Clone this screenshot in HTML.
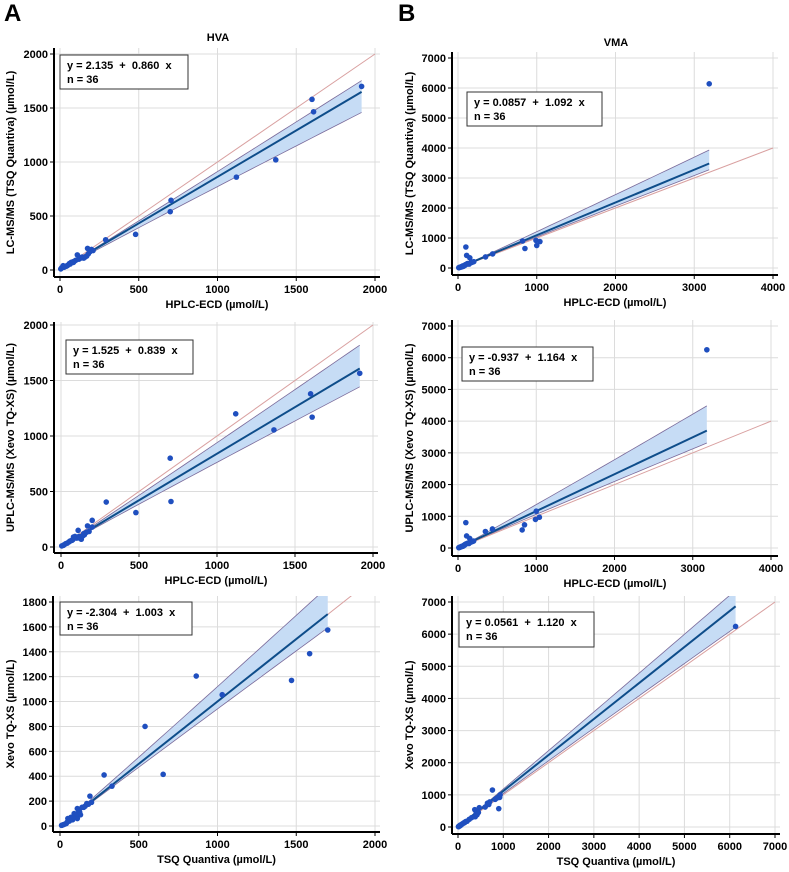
<!DOCTYPE html>
<html><head><meta charset="utf-8">
<style>
body{margin:0;background:#fff;}
svg{display:block;font-family:"Liberation Sans",Arial,sans-serif;font-weight:bold;}
.eq{white-space:pre;}
</style></head>
<body>
<svg id="fig" width="789" height="872" viewBox="0 0 789 872">
<text x="4" y="21" font-size="24">A</text>
<text x="398" y="21" font-size="24">B</text>
<text x="218" y="41" font-size="11" text-anchor="middle">HVA</text>
<text x="616" y="46" font-size="11" text-anchor="middle">VMA</text>
</svg>
<script>
// Panel A1: HVA HPLC-ECD vs TSQ
const a1X=[5,10,20,30,40,50,60,70,80,90,100,110,120,130,140,150,160,170,175,180,190,200,210,290,480,700,705,1120,1370,1600,1610,1915,25,45,65,85];
const a1Y=[10,20,40,30,35,45,60,70,75,80,90,140,100,110,120,110,120,130,200,150,170,190,180,280,330,540,645,860,1020,1580,1465,1700,25,40,55,70];
// Panel A2: HVA HPLC-ECD vs Xevo
const a2X=[5,15,30,50,60,70,80,90,100,110,120,130,140,150,160,170,180,200,200,290,480,700,705,1120,1365,1600,1610,1915,20,40,55,75,95,115,145,165];
const a2Y=[10,15,30,45,55,60,90,95,80,150,80,70,100,110,130,190,140,180,240,405,310,800,410,1200,1055,1380,1170,1565,20,35,50,65,85,95,120,135];
// Panel A3: HVA TSQ vs Xevo
const a3X=[10,20,40,50,60,70,80,90,100,110,110,120,130,140,150,170,190,200,280,330,540,655,865,1030,1470,1585,1700,30,45,65,85,105,125,160,180,15];
const a3Y=[5,10,20,60,40,70,50,100,80,140,60,120,90,150,150,180,240,190,410,320,800,415,1205,1055,1170,1385,1575,15,30,55,75,95,110,160,175,8];
// Panel B1: VMA HPLC-ECD vs TSQ
const b1X=[10,20,30,50,60,80,90,100,110,120,150,170,350,440,820,850,990,1000,1040,3190,15,25,40,55,70,85,95,105,130,140,160,180,45,65,75,200];
const b1Y=[10,20,30,40,70,80,100,700,420,150,340,200,370,470,900,650,920,750,880,6140,15,25,35,50,60,90,110,120,140,130,170,190,45,55,70,210];
// Panel B2: VMA HPLC-ECD vs Xevo
const b2X=[10,20,30,50,60,80,90,100,110,120,150,170,350,440,820,850,990,1000,1040,3180,15,25,40,55,70,85,95,105,130,140,160,180,45,65,75,200];
const b2Y=[10,20,30,50,60,90,110,800,380,150,300,200,520,600,570,730,900,1160,970,6250,15,25,40,55,70,95,120,130,150,140,180,200,50,60,80,220];
// Panel B3: VMA TSQ vs Xevo
const b3X=[10,30,50,100,150,200,370,380,420,470,650,700,760,900,920,930,6130,20,40,60,80,120,130,170,250,300,400,450,600,680,820,860,15,25,35,45];
const b3Y=[10,30,60,100,140,180,540,320,380,600,740,780,1150,570,920,1000,6240,20,40,55,80,120,130,170,240,290,420,450,620,700,860,900,15,25,35,45];
// regression: intercept, slope, band half-width at xmax (upper, lower)
const fitInt=[2.135,1.525,-2.304,0.0857,-0.937,0.0561];
const fitSlope=[0.860,0.839,1.003,1.092,1.164,1.120];
const bandUp=[105,210,220,450,780,500];
const bandLo=[190,165,110,210,390,650];
const eqText=["y = 2.135  +  0.860  x","y = 1.525  +  0.839  x","y = -2.304  +  1.003  x","y = 0.0857  +  1.092  x","y = -0.937  +  1.164  x","y = 0.0561  +  1.120  x"];
const xTicksA=[0,500,1000,1500,2000];
const yTicksA=[0,500,1000,1500,2000];
const yTicksA3=[0,200,400,600,800,1000,1200,1400,1600,1800];
const xTicksB=[0,1000,2000,3000,4000];
const yTicksB=[0,1000,2000,3000,4000,5000,6000,7000];
const xTicksB3=[0,1000,2000,3000,4000,5000,6000,7000];

const NS="http://www.w3.org/2000/svg";
const svg=document.getElementById('fig');
function el(tag,attrs,parent){const e=document.createElementNS(NS,tag);for(const k in attrs)e.setAttribute(k,attrs[k]);(parent||svg).appendChild(e);return e;}

const panels=[
 {xs:a1X,ys:a1Y,px0:60,px1:375,xmax:2000,py0:270,py1:54,ymax:2000,ax:54,ay:277,top:48,right:380,xt:xTicksA,yt:yTicksA,box:[60,55,128,34],xtitle:"HPLC-ECD (µmol/L)",ytitle:"LC-MS/MS (TSQ Quantiva)  (µmol/L)",ytx:10,idmax:2000,name:"hva-hplc-vs-tsq"},
 {xs:a2X,ys:a2Y,px0:61,px1:373,xmax:2000,py0:547,py1:325,ymax:2000,ax:54,ay:553,top:322,right:378,xt:xTicksA,yt:yTicksA,box:[66,340,127,34],xtitle:"HPLC-ECD (µmol/L)",ytitle:"UPLC-MS/MS (Xevo TQ-XS) (µmol/L)",ytx:10,idmax:2000,name:"hva-hplc-vs-xevo"},
 {xs:a3X,ys:a3Y,px0:60,px1:375,xmax:2000,py0:826,py1:602,ymax:1800,ax:53,ay:832,top:596,right:380,xt:xTicksA,yt:yTicksA3,box:[60,602,132,33],xtitle:"TSQ Quantiva (µmol/L)",ytitle:"Xevo TQ-XS (µmol/L)",ytx:10,idmax:2000,name:"hva-tsq-vs-xevo"},
 {xs:b1X,ys:b1Y,px0:458,px1:773,xmax:4000,py0:268,py1:58,ymax:7000,ax:452,ay:275,top:52,right:778,xt:xTicksB,yt:yTicksB,box:[467,92,135,34],xtitle:"HPLC-ECD (µmol/L)",ytitle:"LC-MS/MS (TSQ Quantiva) (µmol/L)",ytx:409,idmax:4000,name:"vma-hplc-vs-tsq"},
 {xs:b2X,ys:b2Y,px0:458,px1:771,xmax:4000,py0:548,py1:326,ymax:7000,ax:452,ay:556,top:320,right:778,xt:xTicksB,yt:yTicksB,box:[462,347,131,34],xtitle:"HPLC-ECD (µmol/L)",ytitle:"UPLC-MS/MS (Xevo TQ-XS) (µmol/L)",ytx:409,idmax:4000,name:"vma-hplc-vs-xevo"},
 {xs:b3X,ys:b3Y,px0:458,px1:775,xmax:7000,py0:827,py1:602,ymax:7000,ax:452,ay:834,top:596,right:780,xt:xTicksB3,yt:yTicksB,box:[459,612,135,35],xtitle:"TSQ Quantiva (µmol/L)",ytitle:"Xevo TQ-XS (µmol/L)",ytx:409,idmax:7000,name:"vma-tsq-vs-xevo"}
];

panels.forEach((p,i)=>{
  const sx=v=>p.px0+(p.px1-p.px0)*v/p.xmax;
  const sy=v=>p.py0+(p.py1-p.py0)*v/p.ymax;
  const g=el('g',{});
  
  
  const cid='clip'+i;
  const cp=el('clipPath',{id:cid},g);
  el('rect',{x:p.ax,y:p.top,width:p.right-p.ax,height:p.ay-p.top},cp);
  p.xt.forEach(t=>{const l=el('line',{x1:sx(t),x2:sx(t),y1:p.top,y2:p.ay,stroke:'#dcdcdc','stroke-width':1},g);
    });
  p.yt.forEach(t=>{const l=el('line',{x1:p.ax,x2:p.right,y1:sy(t),y2:sy(t),stroke:'#dcdcdc','stroke-width':1},g);
    });
  const cg=el('g',{'clip-path':'url(#'+cid+')'},g);
  const xmx=Math.max(...p.xs), xmn=0;
  const fit=x=>fitInt[i]+fitSlope[i]*x;
  const n=30;let up=[],lo=[];
  for(let k=0;k<=n;k++){const x=xmn+(xmx-xmn)*k/n;const f=Math.pow(x/xmx,1.15);
    up.push(sx(x)+','+sy(fit(x)+bandUp[i]*f));lo.push(sx(x)+','+sy(fit(x)-bandLo[i]*f));}
  const band=el('polygon',{points:up.concat(lo.slice().reverse()).join(' '),fill:'#c6dcf5',stroke:'none'},cg);
  
  const bu=el('polyline',{points:up.join(' '),fill:'none',stroke:'#7a6a9a','stroke-width':0.8},cg);
  
  const bl=el('polyline',{points:lo.join(' '),fill:'none',stroke:'#7a6a9a','stroke-width':0.8},cg);
  
  const id=el('line',{x1:sx(0),y1:sy(0),x2:sx(p.idmax),y2:sy(p.idmax),stroke:'#d9a0a0','stroke-width':1},cg);
  
  const fl=el('line',{x1:sx(0),y1:sy(fit(0)),x2:sx(xmx),y2:sy(fit(xmx)),stroke:'#0e4d8a','stroke-width':2},cg);
  
  p.xs.forEach((x,k)=>{const c=el('circle',{cx:sx(x),cy:sy(p.ys[k]),r:2.8,fill:'#1f4fbf'},cg);
    });
  const xa=el('line',{x1:p.ax,x2:p.right,y1:p.ay,y2:p.ay,stroke:'#000','stroke-width':2},g);
  
  const ya=el('line',{x1:p.ax,x2:p.ax,y1:p.top,y2:p.ay,stroke:'#000','stroke-width':2},g);
  
  p.xt.forEach(t=>{el('line',{x1:sx(t),x2:sx(t),y1:p.ay,y2:p.ay+4,stroke:'#000'},g);
    const tx=el('text',{x:sx(t),y:p.ay+16,'font-size':11,'text-anchor':'middle'},g);tx.textContent=t;
    });
  p.yt.forEach(t=>{el('line',{x1:p.ax-4,x2:p.ax,y1:sy(t),y2:sy(t),stroke:'#000'},g);
    const tx=el('text',{x:p.ax-6,y:sy(t)+4,'font-size':11,'text-anchor':'end'},g);tx.textContent=t;
    });
  const xt=el('text',{x:(p.ax+p.right)/2,y:p.ay+31,'font-size':11,'text-anchor':'middle'},g);xt.textContent=p.xtitle;
  
  const ymid=(p.top+p.ay)/2;
  const yt=el('text',{x:p.ytx,y:ymid,'font-size':11,'text-anchor':'middle',transform:'rotate(-90 '+p.ytx+' '+ymid+')',dy:'4'},g);yt.textContent=p.ytitle;
  
  const b=p.box;
  const lg=el('g',{},g);
  
  el('rect',{x:b[0],y:b[1],width:b[2],height:b[3],fill:'#fff',stroke:'#333','stroke-width':1},lg);
  const e1=el('text',{x:b[0]+7,y:b[1]+14,'font-size':11,'class':'eq'},lg);e1.textContent=eqText[i];
  
  const e2=el('text',{x:b[0]+7,y:b[1]+28,'font-size':11},lg);e2.textContent='n = 36';
  
});
</script>
</body></html>
